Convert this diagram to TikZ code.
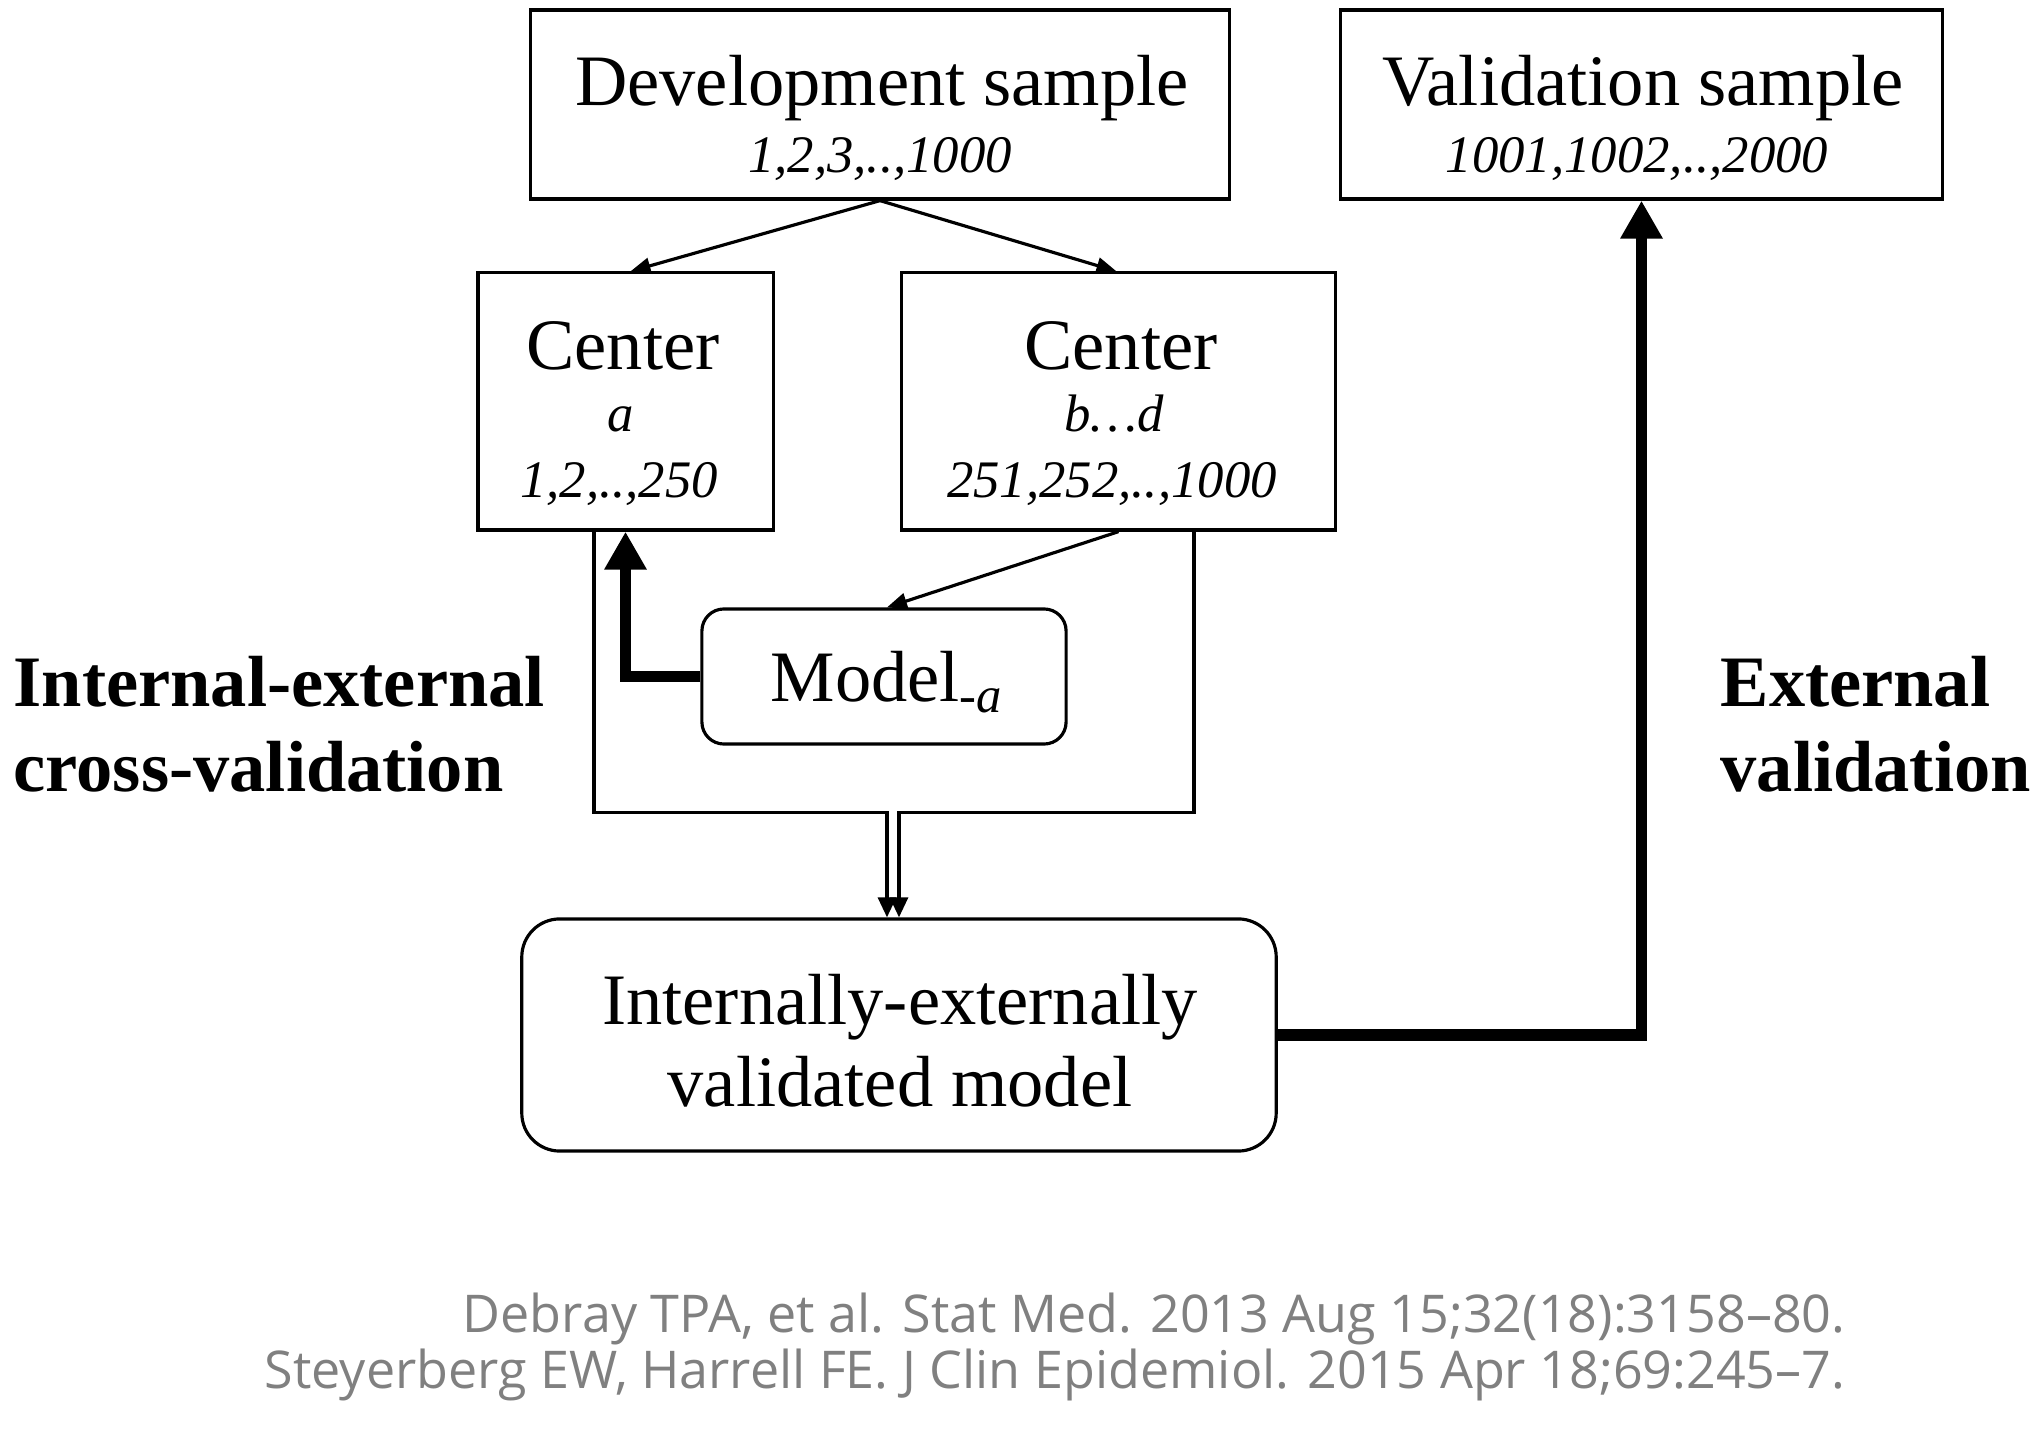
\documentclass[tikz,border=0pt]{standalone}
\usepackage{fontspec}
\setmainfont{Liberation Serif}
\newfontfamily\citefont{Open Sans}
\usetikzlibrary{arrows.meta}
\definecolor{citegray}{HTML}{808080}
\begin{document}
\begin{tikzpicture}[x=0.01cm,y=-0.01cm,
  box/.style={draw, line width=0.9pt, inner sep=0pt},
  rbox/.style={box, rounded corners=#1},
  txt/.style={inner sep=0pt},
  big/.style={txt, font=\fontsize{20.6}{24}\selectfont},
  num/.style={txt, font=\fontsize{15}{18}\selectfont\itshape},
  lab/.style={txt, font=\fontsize{20.6}{24}\selectfont\bfseries},
  cite/.style={txt, font=\citefont\fontsize{14.8}{18}\selectfont, text=citegray},
  thin/.style={line width=0.9pt, -{Triangle[length=0.2cm,width=0.16cm]}},
  thick/.style={line width=3.4pt, -{Triangle[length=0.38cm,width=0.4cm]}},
  dbl/.style={line width=0.9pt, -{Triangle[length=0.2cm,width=0.18cm]}},
]
\useasboundingbox (0,0) rectangle (2035,1443);

% boxes
\node[box, minimum width=6.98cm, minimum height=1.89cm] (dev) at (880,104.5) {};
\node[box, minimum width=6.01cm, minimum height=1.89cm] (val) at (1641.5,104.5) {};
\node[box, minimum width=2.95cm, minimum height=2.57cm] (ca) at (625.5,401.5) {};
\node[box, minimum width=4.33cm, minimum height=2.57cm] (cb) at (1118.5,401.5) {};
\node[rbox=0.22cm, minimum width=3.64cm, minimum height=1.35cm] (model) at (884,676.5) {};
\node[rbox=0.38cm, minimum width=7.54cm, minimum height=2.32cm] (vm) at (899,1035) {};

% texts
\node[big, anchor=base] (devT1) at (882,106) {Development sample};
\node[num, anchor=base] (devT2) at (880,173) {1,2,3,..,1000};
\node[big, anchor=base] (valT1) at (1643,106) {Validation sample};
\node[num, anchor=base] (valT2) at (1637,173) {1001,1002,..,2000};
\node[big, anchor=base] (caT1) at (623,370) {Center};
\node[num, anchor=base] (caT2) at (621,432) {a};
\node[num, anchor=base] (caT3) at (619,498) {1,2,..,250};
\node[big, anchor=base] (cbT1) at (1121,370) {Center};
\node[num, anchor=base] (cbT2) at (1114,432) {b…d};
\node[num, anchor=base] (cbT3) at (1112,498) {251,252,..,1000};
\node[big, anchor=base west] (modelT) at (770,702) {Model\textsubscript{\itshape -a}};
\node[big, anchor=base] (vmT1) at (900,1025) {Internally-externally};
\node[big, anchor=base] (vmT2) at (900,1107) {validated model};
\node[lab, anchor=base west] (l1) at (13,707) {Internal-external};
\node[lab, anchor=base west] (l2) at (13,792) {cross-validation};
\node[lab, anchor=base west] (r1) at (1720,707) {External};
\node[lab, anchor=base west] (r2) at (1720,792) {validation};
\node[cite, anchor=base east] (c1) at (1846,1333) {Debray TPA, et al. Stat Med. 2013 Aug 15;32(18):3158–80.};
\node[cite, anchor=base east] (c2) at (1846,1389) {Steyerberg EW, Harrell FE. J Clin Epidemiol. 2015 Apr 18;69:245–7.};

% connectors
\draw[thin] (dev.south) -- ([xshift=0.05cm]ca.north);
\draw[thin] (dev.south) -- ([xshift=-0.02cm]cb.north);
\draw[thin] (cb.south) -- ([xshift=0.03cm]model.north);
\draw[thick] (model.west) -| (ca.south);
\draw[dbl] ([xshift=-0.315cm]ca.south) |- ([xshift=-0.12cm, yshift=1.05cm]vm.north) -- ([xshift=-0.12cm]vm.north);
\draw[dbl] ([xshift=0.755cm]cb.south) |- ([yshift=1.05cm]vm.north) -- (vm.north);
\draw[thick] (vm.east) -| (val.south);
\end{tikzpicture}
\end{document}
